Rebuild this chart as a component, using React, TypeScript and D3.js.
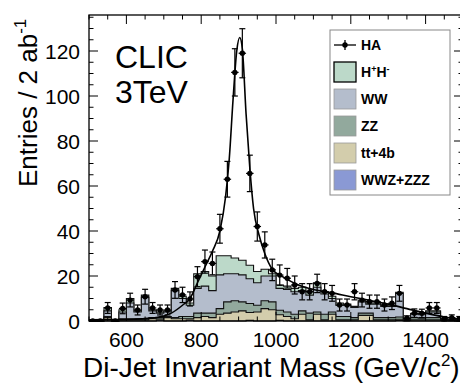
import React from 'react';
import * as d3 from 'd3';

// ---------- data ----------
const binCenters = [510,530,550,570,590,610,630,650,670,690,710,730,750,770,790,810,830,850,870,890,910,930,950,970,990,1010,1030,1050,1070,1090,1110,1130,1150,1170,1190,1210,1230,1250,1270,1290,1310,1330,1350,1370,1390,1410,1430,1450,1470,1490];
const binWidth = 20;

const wwzzzz = [0,0,0,0,0,0,0,0,0,0.4,0,0,0,0.4,0,0,0,0,0,0,0,0.3,0,0,0,0.3,0,0,0,0,0,0,0,0,0,0,0,0,0,0,0,0.3,0,0,0,0,0,0,0,0];
const tt4b   = [0,0,1.5,0,0.5,0.5,0.5,0.5,1,0.5,1.5,1,1,0.6,1.5,2,1.5,3,3.5,4,4.5,3.5,4,5.5,5,2.5,2,1,3,0.5,3,0.5,3,0.5,0.5,0.5,2.5,2.5,0.5,0.5,0.5,0.5,0.3,0.5,0.5,0.5,0.5,0.2,0,0];
const zz     = [0,0,0.5,0,0.5,0.5,0.5,0.5,0.5,0.6,0.5,0.5,1,1,2,1.5,2,2.5,5,5,4,4,3,3.5,3.5,2,2,2,1.5,3,1,2.5,1,1.5,1.5,1,1,1,1,1,1,1,0.3,1,0.8,1,1,0.3,0.3,0.2];
const ww     = [0,0,2.5,0,3,7,3,9.5,3,2,2,12,8,5,11,12,10,15,12.5,12,12,11,10,11,11.5,9.7,10,10,9,8,11,9,6,5,5,4.5,5,4,6,5,5,10.5,0.5,1.5,1.5,2.5,2.5,0.3,0.3,0.2];
const hphm   = [0,0,1.5,0,1,2,0.5,1,0.5,0.5,0.5,1,1,1,6.5,6.5,6.5,8.5,8,7,6.5,6,5,3,1,1.5,1.5,1.5,1.5,1.5,2,1,1,1,0.5,0.5,0.5,0.5,0.5,0.5,0.5,0.5,0.2,0.3,0.2,0.5,0.5,0,0,0];

const haData = [0,0,5.8,0,5.6,9.3,4.9,10.8,5.8,4.9,4.9,13.8,11.6,9.8,19.7,26.4,25.6,41,63,110.5,119,65.6,42,33.8,22.7,20.4,19,16,13,13,16.7,13,12.3,7.1,7.1,13,9.3,8.6,8.6,7.1,7.9,12.3,1.2,3.5,3.4,5.8,5.8,1,1.5,1];

const fitMass = [500,560,620,680,720,750,770,790,810,830,850,865,875,885,895,903,910,920,930,940,955,970,990,1020,1060,1100,1150,1200,1250,1300,1350,1400,1450,1500];
const fitVal  = [0.5,0.6,0.8,1.5,3.5,7,10,17,24,31,40,55,72,98,120,126,121,92,68,50,38,30,23,19.5,16,14,12.5,10.8,9.2,7.5,5.5,3.5,1.8,0.6];

const xTickLabels = [600,800,1000,1200,1400];
const yTickLabels = [0,20,40,60,80,100,120];

const legendItems = [
  { label: 'HA', kind: 'data', color: '#000' },
  { label: 'H+H-', kind: 'box', color: '#bcd9c9' },
  { label: 'WW', kind: 'box', color: '#b4bdcc' },
  { label: 'ZZ', kind: 'box', color: '#92a99d' },
  { label: 'tt+4b', kind: 'box', color: '#d3cdac' },
  { label: 'WWZ+ZZZ', kind: 'box', color: '#8a99d4' },
];

const W = 460, H = 383;
const X0 = 89, X1 = 463, Y0 = 321, YT = 15;
const FONT = '"Liberation Sans", Arial, Helvetica, sans-serif';

export default function App() {
  const x = d3.scaleLinear().domain([500, 1500]).range([X0, X1]);
  const y = d3.scaleLinear().domain([0, (Y0 - YT) / 2.25]).range([Y0, YT]);

  const layers = [wwzzzz, tt4b, zz, ww, hphm];
  const colors = ['#8a99d4', '#d3cdac', '#92a99d', '#b4bdcc', '#bcd9c9'];
  const cum: number[][] = [];
  layers.forEach((arr, li) => {
    cum.push(arr.map((v, i) => v + (li > 0 ? cum[li - 1][i] : 0)));
  });

  const stepPts = (vals: number[]) => {
    const pts: [number, number][] = [];
    binCenters.forEach((c, i) => {
      pts.push([c - binWidth / 2, vals[i]]);
      pts.push([c + binWidth / 2, vals[i]]);
    });
    return pts;
  };
  const area = d3.area<[number, number]>().x(d => x(d[0])).y0(y(0)).y1(d => y(d[1]));
  const line = d3.line<[number, number]>().x(d => x(d[0])).y(d => y(d[1]));
  const fitLine = d3.line<[number, number]>().x(d => x(d[0])).y(d => y(d[1])).curve(d3.curveMonotoneX);

  const order = [4, 3, 2, 1, 0];
  const yMinor = d3.range(0, 136, 5);
  const xMinor = d3.range(500, 1501, 50);

  return (
    <svg width={W} height={H} style={{ position: 'absolute', left: 0, top: 0, background: '#fff' }}>
      <defs>
        <clipPath id="plot">
          <rect x={X0} y={YT} width={X1 - X0} height={Y0 - YT + 1} />
        </clipPath>
      </defs>
      <g clipPath="url(#plot)">
        {order.map(li => {
          const pts = stepPts(cum[li]);
          return (
            <g key={li}>
              <path d={area(pts) || ''} fill={colors[li]} />
              <path d={line(pts) || ''} fill="none" stroke="#111" strokeWidth={1.1} />
            </g>
          );
        })}
        <path d={fitLine(fitMass.map((m, i) => [m, fitVal[i]] as [number, number])) || ''} fill="none" stroke="#000" strokeWidth={1.6} />
        {binCenters.map((c, i) => {
          const v = haData[i];
          const e = Math.sqrt(v);
          const cx = x(c), cy = y(v);
          return (
            <g key={'d' + i} stroke="#000" strokeWidth={1.2}>
              <line x1={x(c - binWidth / 2)} x2={x(c + binWidth / 2)} y1={cy} y2={cy} />
              {v > 0 && (
                <>
                  <line x1={cx} x2={cx} y1={y(v + e)} y2={y(v - e)} />
                  <line x1={cx - 3} x2={cx + 3} y1={y(v + e)} y2={y(v + e)} />
                  <line x1={cx - 3} x2={cx + 3} y1={y(v - e)} y2={y(v - e)} />
                </>
              )}
              <circle cx={cx} cy={cy} r={2.7} fill="#000" stroke="none" />
            </g>
          );
        })}
      </g>

      <rect x={X0} y={YT} width={X1 - X0} height={Y0 - YT} fill="none" stroke="#000" strokeWidth={1.3} />
      {yMinor.map(t => {
        const major = t % 20 === 0;
        const len = major ? 9 : 4.5;
        return (
          <g key={'y' + t} stroke="#000" strokeWidth={1}>
            <line x1={X0} x2={X0 + len} y1={y(t)} y2={y(t)} />
            <line x1={X1} x2={X1 - len} y1={y(t)} y2={y(t)} />
          </g>
        );
      })}
      {xMinor.map(t => {
        const major = (t - 600) % 200 === 0;
        const len = major ? 9 : 4.5;
        return (
          <g key={'x' + t} stroke="#000" strokeWidth={1}>
            <line x1={x(t)} x2={x(t)} y1={Y0} y2={Y0 - len} />
            <line x1={x(t)} x2={x(t)} y1={YT} y2={YT + len} />
          </g>
        );
      })}
      {yTickLabels.map(t => (
        <text key={'yl' + t} x={80} y={y(t) + 7.5} textAnchor="end" fontFamily={FONT} fontSize={21}>{t}</text>
      ))}
      {xTickLabels.map(t => (
        <text key={'xl' + t} x={x(t)} y={347} textAnchor="middle" fontFamily={FONT} fontSize={21}>{t}</text>
      ))}
      <text x={83} y={377} fontFamily={FONT} fontSize={28}>Di-Jet Invariant Mass (GeV/c<tspan dy={-11} fontSize={17}>2</tspan><tspan dy={11}>)</tspan></text>
      <text transform="translate(37,187) rotate(-90)" fontFamily={FONT} fontSize={26}>Entries / 2 ab<tspan dy={-11} fontSize={17}>-1</tspan></text>
      <text x={115} y={68} fontFamily={FONT} fontSize={32}>CLIC</text>
      <text x={115} y={103} fontFamily={FONT} fontSize={32}>3TeV</text>

      <rect x={330} y={30} width={120} height={165} fill="#fff" stroke="#888" strokeWidth={1} />
      {legendItems.map((it, i) => {
        const cy = 45 + i * 27;
        return (
          <g key={it.label}>
            {it.kind === 'data' ? (
              <g stroke="#000" strokeWidth={1.3}>
                <line x1={334} x2={356} y1={cy} y2={cy} />
                <line x1={345} x2={345} y1={cy - 5} y2={cy + 5} />
                <circle cx={345} cy={cy} r={2.7} fill="#000" stroke="none" />
              </g>
            ) : (
              <rect x={334} y={cy - 10} width={22} height={20} fill={it.color} stroke={i === 1 ? '#000' : '#999'} strokeWidth={i === 1 ? 1.3 : 0.8} />
            )}
            <text x={361} y={cy + 5} fontFamily={FONT} fontSize={14} fontWeight="bold">
              {it.label === 'H+H-' ? (<>H<tspan dy={-5} fontSize={9}>+</tspan><tspan dy={5}>H</tspan><tspan dy={-5} fontSize={9}>-</tspan></>) : it.label}
            </text>
          </g>
        );
      })}
    </svg>
  );
}
